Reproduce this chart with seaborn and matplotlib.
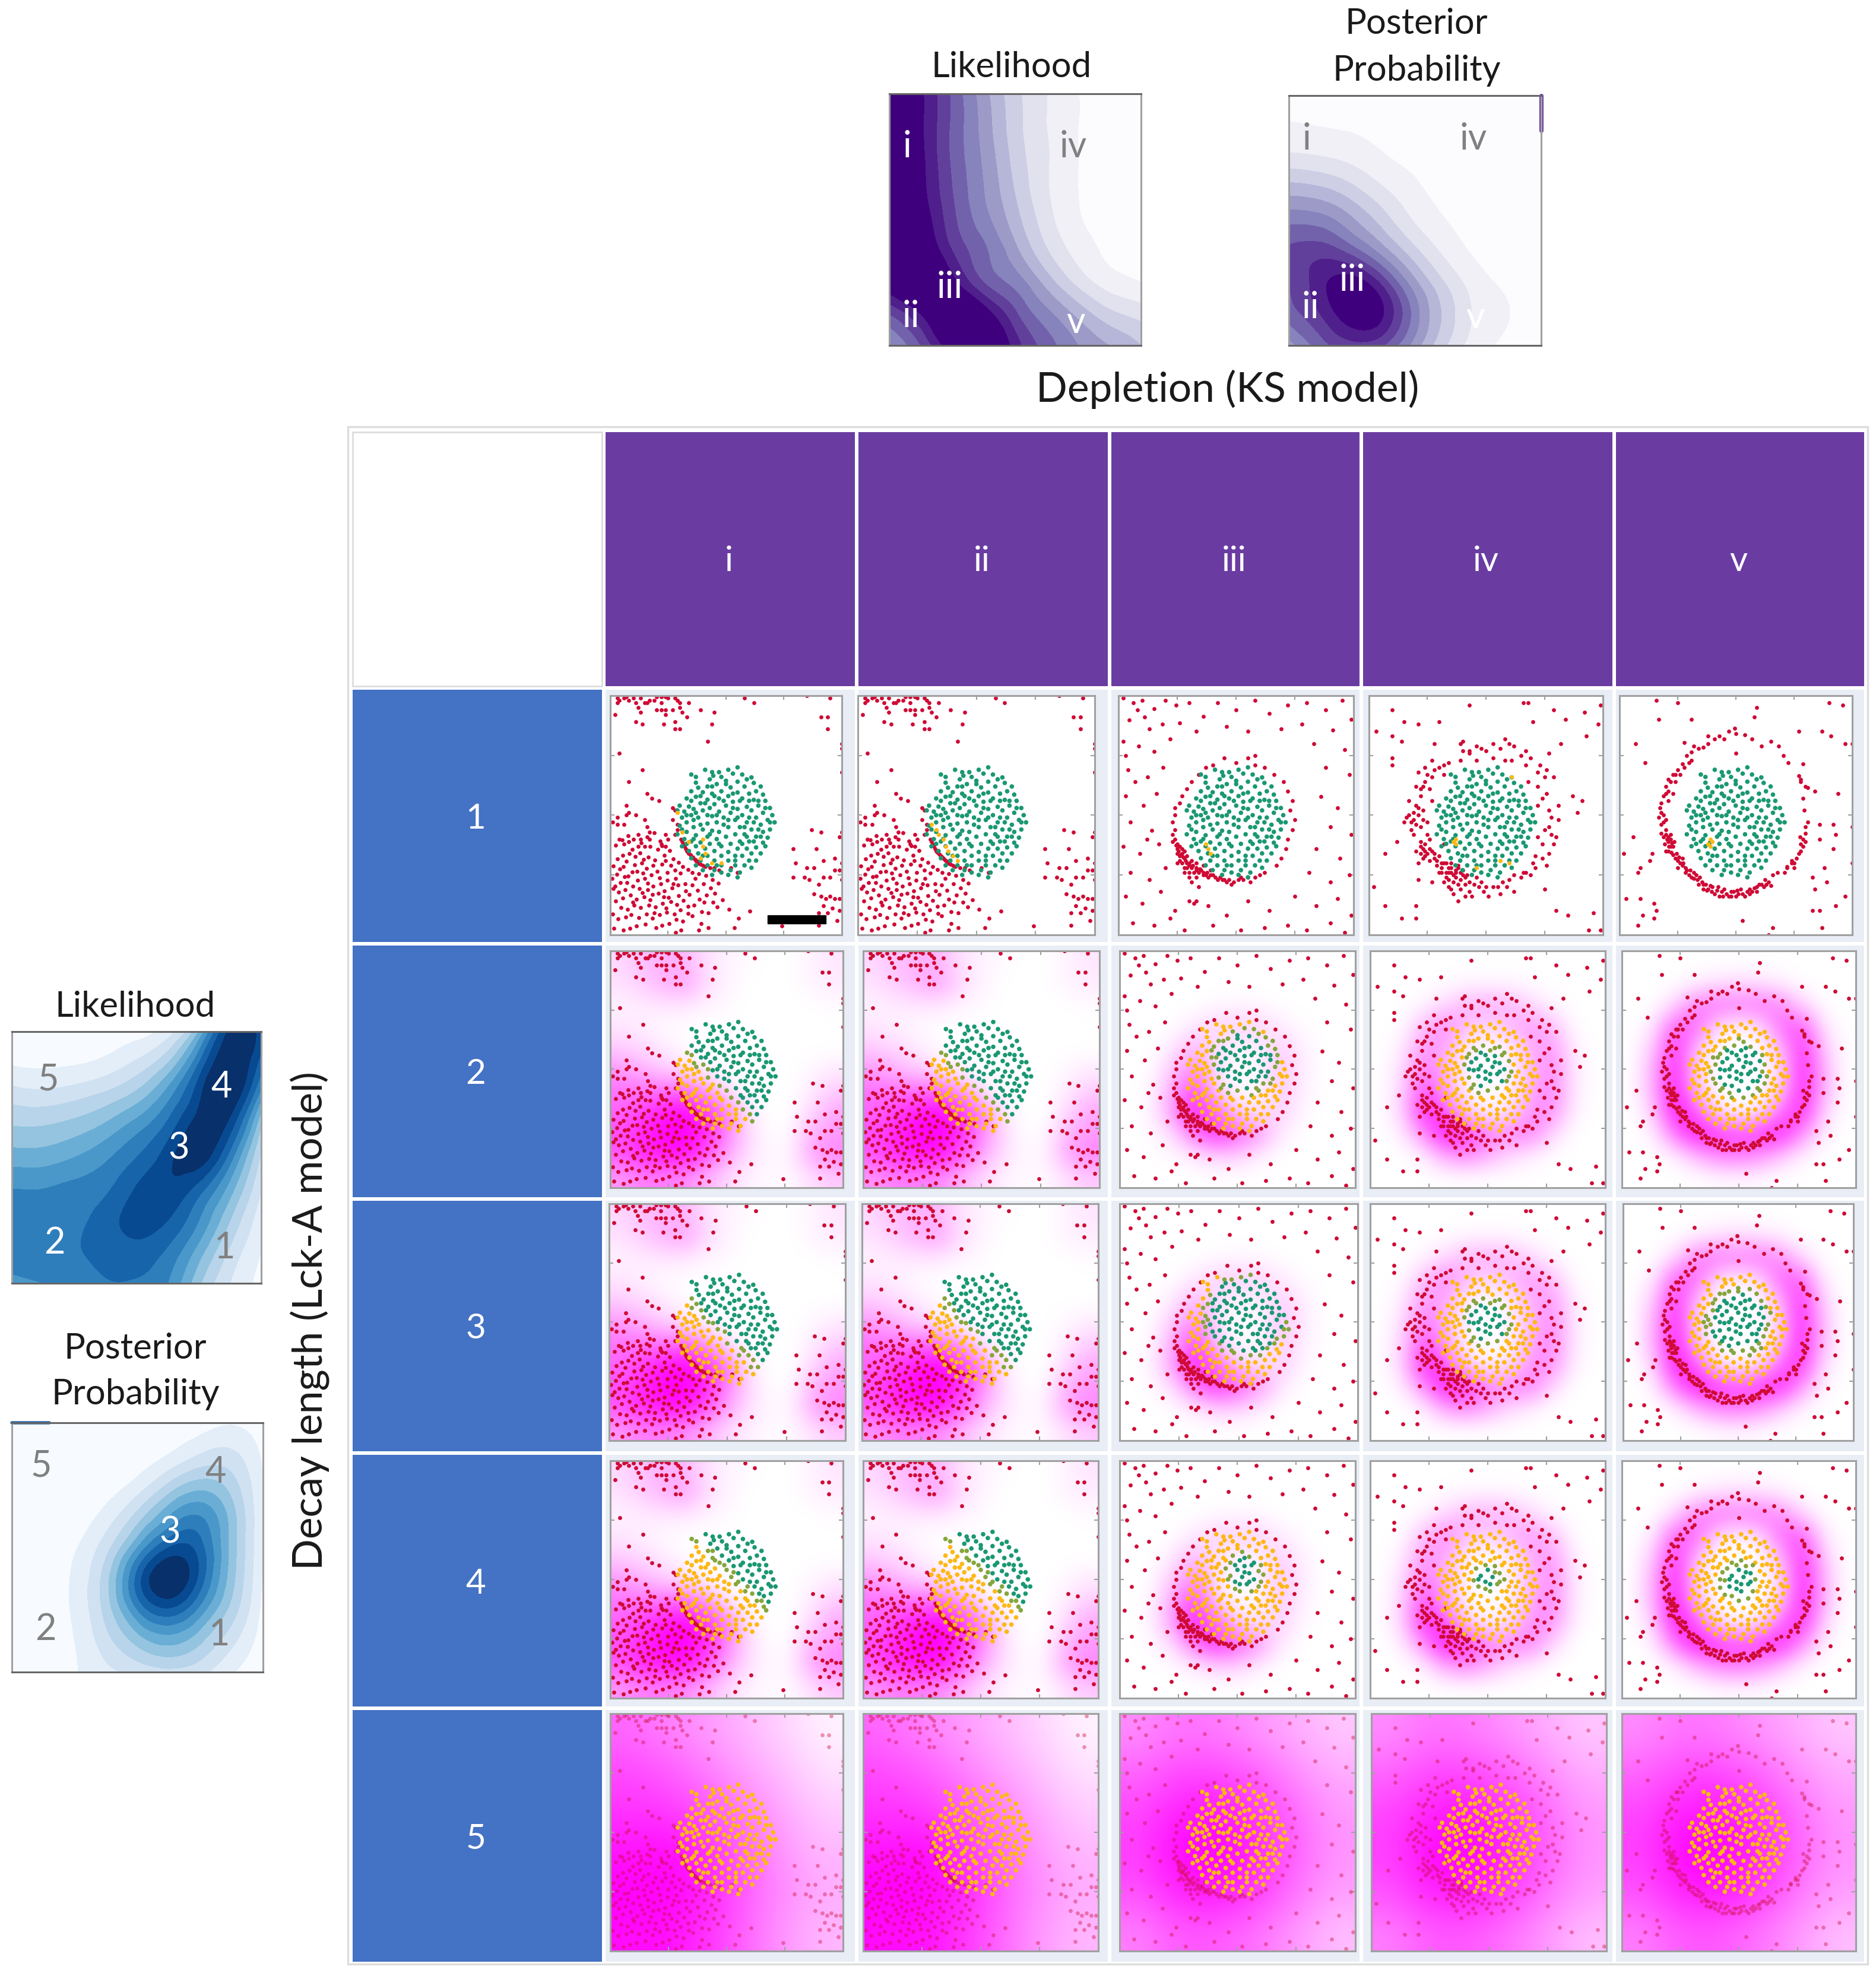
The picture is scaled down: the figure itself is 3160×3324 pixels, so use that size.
"""Likelihood maps and simulated cell snapshots, Lck-A decay length vs KS depletion."""
import matplotlib
matplotlib.use("Agg")
import matplotlib.pyplot as plt
import matplotlib.tri as mtri
from matplotlib.patches import Rectangle
import numpy as np
import pandas as pd
import seaborn as sns

# ---- text
COL_LABELS = ["i", "ii", "iii", "iv", "v"]
ROW_LABELS = ["1", "2", "3", "4", "5"]

# ---- contour maps, rows top to bottom on a 9x9 grid
LIK_PURPLE = [
    [12, 10.2, 7.8, 5.4, 3.3, 2, 1, .7, .4],
    [12, 10.2, 7.8, 5.6, 3.4, 2, 1, .7, .4],
    [12, 10.3, 7.8, 5.8, 3.6, 2.1, 1, .6, .3],
    [12, 10.4, 8, 6, 3.9, 2.1, 1, .5, .3],
    [12, 10.8, 8.3, 6.4, 4.4, 2.4, 1.1, .6, .3],
    [12, 11.5, 9, 7.2, 5.3, 3.1, 1.6, .8, .5],
    [11, 12, 10.5, 8, 6.6, 4.6, 2.7, 1.5, 1],
    [8, 10, 12, 10.8, 8.2, 6.3, 4.7, 3.3, 2.6],
    [6, 8, 11, 12, 9.5, 7.5, 6, 5, 4],
]
POST_PURPLE = [
    [.7, .6, .5, .4, .3, .2, .2, .2, .2],
    [1.1, 1, .9, .7, .4, .3, .2, .2, .2],
    [2.3, 2.1, 1.7, 1.1, .7, .4, .3, .2, .2],
    [4.5, 4.2, 3.3, 2.1, 1.2, .6, .3, .2, .2],
    [6.7, 6.5, 5.2, 3.5, 1.9, 1, .5, .3, .2],
    [8.2, 8.6, 7.6, 5.5, 3.3, 1.7, .8, .4, .3],
    [8, 9.6, 10.6, 8.6, 5.3, 2.9, 1.4, .8, .4],
    [7.5, 9, 10.8, 10, 6.5, 3.6, 1.7, 1, .5],
    [5.5, 7.5, 8.6, 8, 5.5, 3, 1.4, .8, .4],
]
LIK_BLUE = [
    [.3, .3, .3, .4, .6, 1.5, 5, 10.3, 9.5],
    [.9, .8, .9, 1.3, 2.2, 4, 8, 11, 8.5],
    [2.5, 2.3, 2.6, 3.2, 4.3, 6.5, 9.7, 11, 6.5],
    [4, 4, 4.4, 5.2, 6.5, 8.3, 10.6, 9.5, 4],
    [5.5, 5.5, 6, 6.8, 8, 9.6, 10.6, 7.5, 2.8],
    [7, 7, 7.3, 7.8, 9.1, 9.8, 8.5, 5.5, 2],
    [7.7, 7.7, 7.8, 8.5, 9.4, 9, 7, 4, 1.4],
    [7.8, 7.8, 7.9, 8.4, 8.6, 7.8, 5.5, 2.8, 1],
    [6.5, 7, 7.5, 7.9, 7.9, 7, 4.2, 2, .7],
]
POST_BLUE = [
    [.2, .2, .2, .2, .2, .3, .5, .9, .4],
    [.2, .2, .2, .2, .4, 1, 2, 2.2, .8],
    [.2, .2, .2, .5, 1.4, 3.2, 4.5, 3.5, 1],
    [.2, .2, .4, 1.4, 3.4, 6, 7, 4.5, 1],
    [.2, .3, .9, 2.6, 6, 9, 8.4, 4.6, 1],
    [.2, .3, 1.2, 3.6, 8.4, 11, 8.6, 4.4, .9],
    [.2, .3, 1.2, 3.4, 7, 8.8, 6.6, 3.6, .7],
    [.2, .3, 1, 2.6, 4.4, 5.4, 4.2, 2.3, .5],
    [.2, .3, .9, 1.7, 2.3, 2.7, 2.3, 1.1, .3],
]

# ---- magenta signal on an 11x11 grid for rows 2-4, one map per group of columns
GLOW_LEFT = [
    [.15, .25, .3, .3, .12, .05, .02, 0, 0, .05, .1],
    [.12, .2, .3, .38, .15, .05, 0, 0, 0, .05, .08],
    [.05, .08, .1, .1, .05, .02, 0, 0, 0, 0, .02],
    [.1, .06, .02, 0, 0, 0, 0, 0, 0, 0, 0],
    [.2, .15, .08, .02, 0, 0, 0, 0, 0, 0, 0],
    [.4, .3, .2, .12, .03, 0, 0, 0, 0, .03, .08],
    [.55, .55, .55, .6, .4, .1, 0, 0, 0, .08, .2],
    [.6, .75, .9, 1, .85, .5, .1, 0, 0, .15, .35],
    [.7, .85, 1, 1, .85, .5, .15, 0, .02, .3, .4],
    [.65, .85, .9, .95, .7, .35, .12, .03, .05, .35, .5],
    [.4, .5, .5, .45, .3, .15, .05, .02, .02, .12, .2],
]
GLOW_III = [
    [0, 0, 0, 0, 0, 0, 0, 0, 0, 0, 0],
    [0, 0, 0, 0, 0, 0, 0, 0, 0, 0, 0],
    [0, 0, 0, 0, .02, .03, .02, 0, 0, 0, 0],
    [0, 0, .01, .08, .18, .2, .18, .08, .01, 0, 0],
    [0, 0, .08, .3, .12, .03, .05, .2, .06, 0, 0],
    [0, .01, .22, .5, .1, 0, .03, .25, .08, 0, 0],
    [0, .03, .35, .75, .18, 0, .03, .22, .06, 0, 0],
    [0, .04, .4, .95, .6, .2, .12, .2, .03, 0, 0],
    [0, .02, .13, .55, .85, .65, .42, .08, 0, 0, 0],
    [0, 0, .02, .08, .18, .18, .06, 0, 0, 0, 0],
    [0, 0, 0, 0, 0, 0, 0, 0, 0, 0, 0],
]
GLOW_IV = [
    [0, 0, 0, 0, 0, 0, 0, 0, 0, 0, 0],
    [0, 0, 0, .01, .03, .03, .03, .01, 0, 0, 0],
    [0, 0, .03, .15, .28, .33, .28, .15, .03, 0, 0],
    [0, .01, .25, .48, .28, .15, .28, .42, .25, .01, 0],
    [0, .06, .42, .35, .04, 0, .04, .32, .42, .06, 0],
    [0, .12, .55, .32, .03, 0, .03, .28, .48, .08, 0],
    [0, .16, .72, .38, .03, 0, .03, .32, .5, .08, 0],
    [0, .16, .85, .72, .2, .05, .12, .45, .45, .05, 0],
    [0, .06, .45, .95, .78, .52, .48, .52, .15, 0, 0],
    [0, 0, .05, .35, .48, .32, .15, .06, 0, 0, 0],
    [0, 0, 0, 0, 0, 0, 0, 0, 0, 0, 0],
]
GLOW_V = [
    [0, 0, 0, 0, 0, 0, 0, 0, 0, 0, 0],
    [0, 0, 0, .05, .1, .14, .1, .05, 0, 0, 0],
    [0, 0, .15, .5, .58, .5, .58, .45, .15, 0, 0],
    [0, .08, .65, .62, .12, .04, .12, .62, .65, .08, 0],
    [0, .22, .85, .25, 0, 0, 0, .28, .85, .2, 0],
    [0, .32, .9, .15, 0, 0, 0, .15, .9, .28, 0],
    [0, .32, .95, .25, 0, 0, 0, .22, .9, .28, 0],
    [0, .18, .95, .68, .12, .03, .1, .62, .85, .15, 0],
    [0, .05, .55, .95, .82, .72, .82, .88, .42, .04, 0],
    [0, 0, .05, .28, .5, .55, .45, .22, .04, 0, 0],
    [0, 0, 0, 0, .02, .03, .02, 0, 0, 0, 0],
]
# row 5 is much broader, 6x6 is enough
GLOW5_LEFT = [
    [.6, .5, .4, .28, .17, .05],
    [.72, .65, .52, .38, .25, .12],
    [.8, .78, .66, .5, .34, .2],
    [.92, .98, .82, .6, .4, .28],
    [1, 1, .88, .64, .45, .32],
    [.95, .95, .8, .6, .4, .28],
]
GLOW5_RING = [
    [.45, .55, .52, .42, .32, .22],
    [.6, .72, .72, .62, .45, .32],
    [.72, .88, .92, .78, .58, .4],
    [.75, .98, 1, .85, .62, .42],
    [.68, .88, .92, .78, .55, .38],
    [.5, .65, .65, .55, .4, .25],
]

# ---- cells in the disc, x and y in percent of the panel, y from the top
CELL_PTS = [
    (55, 30), (41, 31), (44, 32), (51, 31), (35, 33), (44.5, 33.5), (48, 34), (53, 32.6), (57, 33), (61, 34.2),
    (37, 36.4), (43, 35), (50, 35.6), (55, 36), (62, 36.5), (65, 38), (38, 38.5), (46, 37), (42, 38), (52, 38.4),
    (58, 38), (63, 40), (35, 40), (40, 40.4), (48, 40), (55, 40.5), (60, 41), (66, 41.4), (44, 41), (51, 42),
    (37, 42.3), (33, 43), (42, 43.5), (47, 43), (57, 43), (62, 43.6), (67, 44), (53, 44.4), (39, 45), (45, 45.4),
    (30, 46), (34, 46.4), (50, 46), (59, 46.5), (64, 46), (69, 47), (36, 47.4), (43, 47), (55, 47.4), (29, 48),
    (32, 48.5), (40, 48), (47, 48.5), (52, 49), (61, 48), (66, 49), (70, 50), (35, 50), (44, 50.4), (57, 50),
    (31, 51), (38, 51), (49, 51), (54, 52), (63, 51), (68, 52), (71, 53), (33, 53), (42, 53.5), (46, 53),
    (59, 53), (65, 54), (30, 54.4), (36, 55), (51, 55), (56, 55), (61, 56), (69, 56), (40, 56), (44, 56.5),
    (47, 57), (33, 57), (66, 57), (29, 58), (37, 58.4), (54, 58), (58, 58), (63, 59), (68, 59.4), (42, 59),
    (50, 59), (32, 60), (46, 60), (35, 61), (39, 61.4), (56, 61), (60, 61), (66, 61.5), (52, 62), (43, 62),
    (31, 63), (37, 63), (48, 63), (63, 63.5), (67, 63), (41, 64), (55, 64), (59, 64), (34, 65), (45, 65),
    (51, 65.4), (38, 66), (61, 66), (65, 66), (42, 67), (48, 67), (54, 67), (57, 67), (35, 68), (60, 69),
    (45, 69), (39, 69), (51, 69), (63, 69), (37, 71), (42, 71), (48, 71), (54, 71), (58, 71), (40, 73),
    (45, 73), (52, 73), (56, 74), (61, 72), (44, 75), (48, 74), (51, 75), (55, 76), (37, 34), (59, 35),
    (47, 32), (64, 44), (33, 50), (39, 54), (49, 54), (60, 51), (43, 58), (55, 51), (64, 56), (36, 60),
    (47, 62), (58, 55), (53, 47), (41, 45), (31, 56), (67, 47), (62, 61), (50, 37), (45, 42), (57, 62),
    (35, 44), (69, 53), (39, 42), (53, 41), (42, 50), (51, 52), (37, 49), (46, 50), (60, 44), (65, 59),
    (33, 62), (40, 67), (46, 71), (54, 69), (59, 59), (49, 44), (56, 44), (44, 38), (62, 53), (36, 52),
]

# ---- red cells outside the disc for columns i and ii
LEFT_TOP = [
    (3, 1), (4, 2), (6, 1), (7, .5), (8, 2), (3, 3), (10, 1), (13, 1), (15, 3), (17, 2), (19, 2), (20, .5),
    (22, .5), (24, .5), (25, 1), (28, 1), (29, 2), (30, 3), (16, 3), (11, 3), (12, 5), (13, 7), (22, 3),
    (20, 6), (22, 6), (24, 6), (24, 8), (27, 6), (30, 5), (31, 7), (34, 3), (45, 7), (39, 6), (33, 9),
    (2, 8), (11, 11), (14, 12), (23, 12), (28, 11), (28, 14), (30, 14), (44, 12), (42, 19), (62, 3),
    (58, 1), (85, 0), (95, 1), (91, 9), (94, 9), (94, 14), (100, 20), (100, 22), (100, 32),
]
LEFT_MID = [
    (4, 24), (14, 31), (8, 36), (16, 41), (18, 43), (21, 44), (7, 46), (8, 49), (7, 50), (11, 50), (15, 52),
    (3, 51), (1, 53), (3, 54), (6, 54), (16, 55), (27, 47), (28, 48), (27, 52), (29, 54), (29, 56), (28, 58),
    (12, 58), (10, 60), (13, 60), (8, 61), (4, 60), (6, 62), (15, 63), (17, 60), (12, 63), (17, 57), (24, 58),
    (25, 60), (22, 62), (24, 63),
]
LEFT_ARC = [
    (30.5, 60), (31, 61), (31.5, 62), (32, 63), (32.5, 64), (33, 65), (33.5, 65.5), (34, 66), (34.6, 66.6), (35, 67),
    (35.6, 67.5), (36, 68), (36.6, 68.5), (37, 69), (37.6, 69.4), (38, 70), (38.6, 70.2), (39, 70.5), (40, 71),
    (41, 71.5), (43, 72), (45, 72), (47, 73), (52, 72), (55, 74),
]
LEFT_CLUMP = [
    (2.3, 62.5), (5.1, 60.4), (7.8, 58.6), (9.6, 64.2), (13.4, 61.7), (15.8, 59.2), (18.9, 57.3), (17.2, 63.1), (21.6, 60.8),
    (5.4, 66.9), (8.2, 66.1), (6.9, 69.3), (3.1, 68.4), (1.2, 71.2), (10.7, 67.4), (12.8, 65.8), (13.6, 70.1), (16.4, 67.5),
    (19.3, 68.9), (20.6, 64.4), (22.4, 62.7), (23.3, 66.9), (25.7, 64.8), (27.1, 68.3), (29.6, 69.8), (31.4, 71.6), (15.7, 72.2),
    (18.4, 71.1), (14.2, 74.3), (10.6, 70.7), (9.4, 73.8), (5.7, 71.6), (2.8, 74.7), (.9, 76.6), (4.3, 78.1), (7.6, 75.4),
    (11.9, 77.2), (14.8, 76.4), (17.7, 75.1), (20.4, 73.6), (22.3, 70.4), (24.7, 73.9), (26.2, 70.9), (27.9, 73.1), (30.4, 74.2),
    (33.6, 72.8), (35.5, 73.9), (38.2, 74.6), (41.4, 75.3), (44.2, 77.1), (28.3, 76.6), (24.6, 77.3), (21.7, 78.8), (18.6, 79.6),
    (16.3, 81.2), (12.7, 80.6), (9.8, 79.7), (6.4, 81.3), (3.7, 82.1), (1.3, 80.7), (2.4, 85.9), (5.3, 84.6), (8.7, 83.4),
    (11.4, 85.2), (14.6, 84.3), (17.3, 85.4), (20.8, 82.6), (23.4, 81.7), (26.6, 80.4), (29.3, 79.2), (32.4, 78.7), (35.3, 79.1),
    (37.6, 81.4), (40.3, 78.6), (43.4, 80.4), (46.6, 78.4), (34.2, 83.3), (31.6, 85.7), (28.7, 87.4), (25.2, 84.4), (22.6, 86.8),
    (19.4, 88.3), (16.7, 87.7), (13.2, 88.6), (10.3, 87.6), (7.4, 89.4), (4.6, 88.7), (1.1, 91.3), (3.4, 93.4), (6.8, 92.6),
    (9.1, 91.7), (12.3, 92.8), (15.6, 91.4), (18.2, 93.1), (21.3, 91.6), (24.4, 90.7), (27.6, 91.3), (30.2, 89.6), (33.5, 88.2),
    (36.3, 87.7), (38.4, 85.2), (41.6, 83.4), (44.3, 86.3), (46.2, 88.4), (42.3, 90.8), (39.4, 90.3), (35.4, 92.2), (31.3, 94.4),
    (28.4, 93.6), (25.3, 95.3), (22.4, 96.2), (19.7, 97.1), (15.2, 95.7), (11.3, 96.4), (8.4, 97.3), (5.6, 98.2), (1.6, 97.4),
    (28.2, 99), (30.6, 98), (39.2, 95.3), (42.4, 97.2), (38.3, 98.1), (48.4, 85.3), (51.2, 89.4), (55.3, 93.2), (60.4, 90.1),
    (53.6, 97.2), (74.2, 96.4), (23.8, 69.1), (11.6, 73.4), (7.3, 78.2), (18.3, 83.1), (26.3, 86.2), (32.7, 81.8), (21.2, 76.2),
    (13.9, 82.4), (4.2, 72.6), (29.4, 83.7), (36.7, 76.6), (16.2, 78.4), (24.1, 88.8), (9.7, 86.4), (19.1, 90.8), (33.7, 91.2),
    (40.6, 86.3), (45.2, 82.6), (6.1, 75.8), (2.2, 79.6), (27.3, 78.8), (23.2, 84.2), (14.4, 68.6),
]
LEFT_RIGHT = [
    (87, 56), (91, 57), (100, 57), (99, 59), (79, 64), (89, 64), (80, 70), (92, 69), (97, 68), (100, 70), (99, 73),
    (85, 72), (88, 72), (84, 76), (86, 77), (79, 76), (92, 76), (95, 76), (97, 73), (90, 79), (100, 77), (88, 83),
    (91, 84), (93, 85), (95, 84), (97, 85), (92, 88), (96, 89), (99, 85), (99, 90), (90, 91), (94, 91), (98, 94),
    (90, 96),
]

# ---- red cells for columns iii, iv, v: the ring, then the stray ones
RING_III = [
    (24, 50), (23, 53), (24, 56), (23, 58), (24, 60), (25, 62), (25, 64), (27, 66), (26, 67), (28, 68), (29, 70),
    (30, 71), (31, 72), (33, 72), (34, 74), (35, 73), (37, 75), (38, 76), (40, 75), (42, 77), (44, 77), (46, 78),
    (49, 78), (51, 77), (53, 77), (56, 78), (58, 76), (60, 75), (62, 74), (26, 63), (28, 65), (29, 67), (31, 69),
    (33, 70), (36, 71), (39, 73), (27, 70), (30, 74), (24, 47), (26, 45), (27, 42), (29, 39), (31, 36), (34, 33),
    (37, 30), (40, 29), (45, 26), (50, 28), (55, 26), (58, 29), (62, 30), (66, 33), (70, 36), (72, 40), (74, 44),
    (73, 48), (75, 52), (74, 56), (72, 60), (71, 64), (69, 68), (67, 71), (30, 76), (34, 80), (28, 72), (31, 78),
    (58, 25), (30, 86), (32, 87), (33, 86), (25, 66), (27, 64), (23, 61), (26, 69), (29, 72), (32, 74), (36, 74),
    (24.5, 62.5), (25.5, 65), (26.5, 66.5), (27.5, 67.5), (28.5, 69), (30, 70), (31.5, 71), (33, 73), (34.5, 72.5), (36, 75),
    (37.5, 74), (39, 75), (41, 76), (43, 76), (45, 77), (47, 77), (48, 79), (52, 76), (55, 76), (25, 70), (28, 74), (33, 76),
]
STRAY_III = [
    (2, 1), (6.4, 3), (10, 2), (15, 5.4), (20, 2), (24.4, 4), (30, 3), (36, 8.6), (42, 3), (50, 6), (58, 2), (64, 7.4), (72, 4),
    (80, 3), (88, 6), (95, 2), (99, 10), (4.4, 10.3), (11, 9), (18.6, 12), (26, 11.4), (33, 15), (46, 13), (55, 15), (69, 14),
    (78, 12), (91, 14.4), (2, 19), (8.6, 21), (15, 23.4), (22, 18), (83, 20), (96, 22.6), (4, 31), (12.4, 34), (19, 30), (88, 30),
    (98, 33), (3, 42), (10.6, 46), (16, 41), (86, 42.3), (93, 47), (5, 53), (14, 56.4), (90, 55), (99, 58), (2, 63), (9, 66),
    (17, 62), (84, 64), (94, 68), (5, 74), (13, 77), (20, 72), (81, 74), (90, 78), (98, 75), (3, 84), (10, 87), (18, 82),
    (24, 90), (38, 88), (46, 92), (55, 86), (64, 90), (75, 84), (84, 88), (93, 85), (99, 92), (6, 95), (15, 96), (28, 98),
    (40, 96), (52, 98), (62, 97), (72, 96), (80, 98), (90, 95), (96, 99), (8, 6), (13, 14), (3, 25), (7, 36), (12, 60), (22, 93),
]
RING_IV = [
    (39, 20), (40, 19), (46, 21), (53, 20), (58, 18), (60, 20), (62, 21), (67, 23), (40, 23), (43, 24), (48, 22), (53, 26),
    (58, 27), (61, 27), (65, 25), (46, 27), (39, 27), (34, 28), (32, 29), (27, 27), (24, 30), (21, 32), (32, 33), (27, 34),
    (24, 36), (20, 38), (22, 39), (26, 39), (22, 42), (17, 44), (20, 46), (27, 44), (21, 47), (23, 48), (19, 49), (21, 50),
    (16, 51), (19, 52), (23, 52), (25, 53), (15, 53), (18, 56), (22, 55), (19, 58), (25, 58), (26, 60), (12, 61), (22, 61),
    (22, 63), (20, 65), (24, 65), (27, 65), (30, 67), (32, 62), (23, 68), (26, 69), (32, 70), (34, 72), (31, 72), (37, 73),
    (40, 73), (33, 74), (36, 75), (39, 77), (41, 76), (43, 78), (46, 76), (48, 78), (32, 78), (34, 80), (39, 81), (43, 82),
    (36, 83), (41, 84), (44, 84), (49, 82), (51, 84), (53, 80), (56, 83), (57, 78), (60, 77), (62, 82), (62, 75), (67, 74),
    (69, 75), (71, 72), (71, 67), (74, 68), (77, 66), (79, 62), (80, 59), (72, 59), (75, 56), (81, 52), (78, 51), (77, 48),
    (81, 46), (72, 46), (76, 41), (72, 38), (68, 36), (79, 34), (76, 31), (72, 32), (67, 29), (73, 29), (77, 24), (69, 26),
    (21, 70), (21, 77), (27, 78), (70, 70), (66, 74), (28, 68), (33, 70), (35, 70), (38, 71), (37, 76), (34, 77), (38, 79),
    (35, 81), (41, 79), (29, 71), (25, 66), (23, 64), (30, 74), (33, 76), (36, 78), (39, 74), (42, 75), (24, 62), (26, 64),
    (28, 66), (29, 69), (31, 70), (35, 72), (37, 74), (38, 72), (40, 75), (35, 74), (31, 74), (34, 74), (22, 66), (24, 67),
    (18, 53), (17, 50), (20, 54), (45, 79), (47, 80), (50, 80), (55, 80), (59, 80), (65, 76), (43, 23), (50, 23), (56, 22),
    (30, 30), (28, 31), (25, 33), (23, 38), (75, 34), (74, 43), (77, 55), (78, 58), (74, 62), (76, 71),
]
STRAY_IV = [
    (10, 6), (43, 4), (66, 3), (68, 3), (79, 6), (92, 7), (99, 4), (15, 11), (21, 12), (30, 11), (70, 11), (84, 10), (98, 12),
    (3, 15), (10, 17), (14, 19), (93, 17), (28, 20), (82, 20), (10, 26), (10, 29), (87, 42), (91, 44), (89, 49), (7, 66),
    (75, 81), (38, 86), (7, 88), (20, 88), (80, 90), (85, 92), (96, 91), (14, 93), (20, 93), (94, 98), (99, 98), (2, 80),
]
RING_V = [
    (49.5, 13.6), (47, 15), (45, 18), (41, 18), (38, 17), (38, 20), (36, 21.5), (32, 21), (31, 23.5), (29, 25), (31, 27),
    (28, 19.5), (27, 28.5), (25, 31), (23, 33), (21, 35), (24, 36), (20, 38), (19, 42), (23, 41), (21, 44), (17.5, 47),
    (19, 50), (17, 51), (19, 53), (20, 56), (18, 57.5), (21, 59), (19.5, 62), (22, 63), (20, 65), (23, 66.5), (25, 69),
    (27, 68), (25, 72), (28.5, 72), (30, 75), (32, 74), (33.5, 77), (35.5, 78), (36, 81), (39, 79.5), (42, 81.5), (43, 84),
    (45, 81), (48, 82), (50, 84), (52, 81), (55, 82), (58, 80.5), (60, 79), (62.5, 77), (65, 79.5), (66, 75), (68, 74),
    (72, 71.5), (75, 72), (77, 66), (79, 63), (77.5, 59), (80, 57.5), (81, 53), (79.5, 48), (79, 43), (81, 38.5), (84, 40),
    (78, 36), (77, 33.5), (79, 28.5), (72.5, 28), (70.5, 25), (68.5, 21), (65, 19), (61, 21), (57, 18), (54, 16.5),
    (22, 60), (21, 61), (22, 58), (19, 59), (23, 63), (21, 65), (24, 68), (26, 70), (27, 71), (29, 73), (31, 76), (33, 75),
    (34, 79), (37, 79), (38, 81), (40, 80), (41, 83), (44, 82), (46, 83), (47, 84), (49, 82), (51, 83), (53, 83), (56, 81),
    (57, 82), (59, 80), (61, 79), (63, 79), (24, 33), (22, 36), (20, 41), (21, 40), (18, 45), (18, 49), (20, 52), (18, 54),
    (20, 58), (72, 72), (71, 74), (79, 60), (78, 62), (76, 68), (75, 70), (74, 70), (80, 55), (78, 35), (80, 38),
    (22.6, 61.5), (21.2, 63), (24.5, 66), (22.2, 65.6), (25.7, 67.5), (27.5, 70), (28.5, 74), (30.5, 73), (32, 76.5), (34.5, 76),
    (36, 79), (37.5, 81.5), (39.5, 82), (42.5, 80), (44.5, 84), (48, 84), (50.5, 81.5), (54, 84), (56, 83), (59, 82), (62, 80),
    (64, 78), (20.5, 60), (23.5, 61), (26, 33), (28, 30), (30, 28), (34, 22), (43, 17), (50, 16), (74, 69), (78, 65), (80, 61),
]
STRAY_V = [
    (16, 2), (25, 3), (59, 5), (90, 3), (96, 4), (17, 10), (31, 10), (58, 9), (77, 15), (87, 15), (91, 17), (97, 20), (100, 20),
    (7, 20), (11, 28), (94, 41), (86, 54), (92, 54), (93, 58), (86, 60), (6, 59), (92, 64), (14, 66), (2, 66), (13, 69), (9, 72),
    (8, 74), (83, 76), (88, 72), (84, 81), (89, 78), (97, 84), (3, 85), (9, 85), (15, 87), (16, 90), (10, 92), (15, 93), (8, 96),
    (53, 94), (66, 97), (87, 97), (64, 100), (93, 88), (86, 90), (83, 90), (100, 55), (100, 70), (50, 24),
]

# a few activated cells in the first row
ROW1_YELLOW = [
    [(29, 49), (31, 57), (34, 61), (40, 60), (40, 63), (41, 66), (39, 68), (44, 70), (48, 70)],
    [(31, 54), (33, 56), (34, 58), (36, 60), (37, 63), (38, 65), (40, 67), (42, 69)],
    [(37, 62), (38, 64), (39, 66)],
    [(37, 60), (36, 61), (37, 62), (61, 34), (56, 69), (60, 70), (46, 72)],
    [(39, 60), (40, 61), (38, 62), (39, 63)],
]
# where green turns yellow: x - y cut for columns i, ii; green core radius for iii, iv, v
DIAG_CUT = [None, -10, -7, 4, None]
CORE_RADIUS = [
    [None, None, None],
    [13, 9, 11],
    [17, 9, 13],
    [7, 5, 7],
    [0, 0, 0],
]

# ---- layout, in pixels of the shrunk picture
S = 3160 / 1491
COL_EDGES = [279, 480, 681, 882, 1082, 1283, 1483]
ROW_EDGES = [342, 547, 750, 953, 1155, 1358, 1561]
PANEL_X = [
    [(485, 669), (682, 870), (889, 1076), (1088, 1274), (1287, 1472)],
    [(485, 670), (686, 874), (890, 1077), (1089, 1276), (1289, 1475)],
    [(484, 672), (685, 873), (890, 1079), (1089, 1276), (1290, 1473)],
    [(485, 670), (686, 873), (890, 1077), (1089, 1276), (1289, 1475)],
    [(485, 670), (686, 873), (890, 1077), (1090, 1277), (1289, 1475)],
]
PANEL_Y = [(553, 743), (756, 944), (957, 1145), (1161, 1350), (1362, 1551)]

PURPLE_HEAD = "#6a3ca2"
BLUE_HEAD = "#4472c4"
CELL_BG = "#e9edf5"
EDGE_GREY = "#a0a0a0"
GREEN = "#1a9873"
YELLOW = "#fdb813"
OLIVE = "#85a63c"
RED = "#cf0a35"

sns.set_theme(style="white")
plt.rcParams["font.family"] = ["Lato", "DejaVu Sans"]

fig = plt.figure(figsize=(31.6, 33.24), dpi=100)


def px_axes(x0, y0, x1, y1, **kw):
    return fig.add_axes([x0 / 3160, 1 - y1 / 3324, (x1 - x0) / 3160, (y1 - y0) / 3324], **kw)


def panel_frame(ax, ticks):
    ax.set_xticks(ticks)
    ax.set_yticks(ticks)
    ax.set_xticklabels([])
    ax.set_yticklabels([])
    ax.set_xlabel("")
    ax.set_ylabel("")
    ax.tick_params(direction="in", length=5, width=1.5, color=EDGE_GREY, top=True, right=True, bottom=True, left=True)
    for sp in ax.spines.values():
        sp.set_visible(True)
        sp.set_color(EDGE_GREY)
        sp.set_linewidth(2.2)


def contour_panel(box, grid, palette, labels):
    ax = px_axes(*box)
    z = np.array(grid, dtype=float)
    gx, gy = np.meshgrid(np.linspace(0, 1, z.shape[1]), np.linspace(0, 1, z.shape[0]))
    tri = mtri.Triangulation(gx.ravel(), gy.ravel())
    tri2, z2 = mtri.UniformTriRefiner(tri).refine_field(z.ravel(), subdiv=3)
    cmap = sns.color_palette(palette, as_cmap=True)
    colors = cmap(np.r_[0.0, np.linspace(0.0, 1.0, 11)])
    ax.tricontourf(tri2, z2, levels=np.arange(0, 11), colors=colors, extend="both")
    ax.set_xlim(0, 1)
    ax.set_ylim(1, 0)
    panel_frame(ax, [1 / 3, 2 / 3])
    ax.spines["bottom"].set_color("#666666")
    ax.spines["top"].set_color("#666666")
    for text, x, y, color in labels:
        ax.text(x, y, text, color=color, fontsize=44, ha="center", va="center")
    return ax


def glow_for(row, col):
    if row == 0:
        return None
    if row == 4:
        return GLOW5_LEFT if col < 2 else GLOW5_RING
    return [GLOW_LEFT, GLOW_LEFT, GLOW_III, GLOW_IV, GLOW_V][col]


def reds_for(col):
    if col < 2:
        return LEFT_TOP + LEFT_MID + LEFT_ARC + LEFT_CLUMP + LEFT_RIGHT
    return {2: RING_III + STRAY_III, 3: RING_IV + STRAY_IV, 4: RING_V + STRAY_V}[col]


def cell_frame(row, col):
    df = pd.DataFrame(CELL_PTS, columns=["x", "y"])
    if row == 0:
        df["state"] = "green"
    elif row == 4:
        df["state"] = "yellow"
    elif col < 2:
        margin = (df["x"] - df["y"]) - DIAG_CUT[row]
        df["state"] = np.where(margin < -2, "yellow", np.where(margin < 3, "olive", "green"))
    else:
        cx, cy = (53, 47) if col == 2 else (50, 50)
        dist = np.hypot(df["x"] - cx, df["y"] - cy)
        margin = dist - CORE_RADIUS[row][col - 2]
        df["state"] = np.where(margin > 2, "yellow", np.where(margin > -1, "olive", "green"))
    return df


def snapshot_panel(row, col):
    x0, x1 = PANEL_X[row][col]
    y0, y1 = PANEL_Y[row]
    ax = px_axes(x0 * S, y0 * S, x1 * S, y1 * S)
    glow = glow_for(row, col)
    if glow is not None:
        ax.imshow(glow, extent=(0, 100, 100, 0), cmap=GLOW_CMAP, vmin=0, vmax=1,
                  interpolation="bicubic", aspect="auto", zorder=0)
    reds = pd.DataFrame(reds_for(col), columns=["x", "y"])
    sns.scatterplot(data=reds, x="x", y="y", color=RED, s=24, linewidth=0, legend=False,
                    alpha=0.4 if row == 4 else 1, ax=ax, zorder=2)
    cells = cell_frame(row, col)
    sns.scatterplot(data=cells, x="x", y="y", hue="state",
                    palette={"green": GREEN, "yellow": YELLOW, "olive": OLIVE},
                    s=30, linewidth=0, legend=False, ax=ax, zorder=3)
    if row == 0:
        extra = pd.DataFrame(ROW1_YELLOW[col], columns=["x", "y"])
        sns.scatterplot(data=extra, x="x", y="y", color=YELLOW, s=26, linewidth=0, legend=False, ax=ax, zorder=4)
    ax.set_xlim(0, 100)
    ax.set_ylim(100, 0)
    panel_frame(ax, [25, 50, 75])
    if row == 0 and col == 0:
        ax.add_patch(Rectangle((68, 92), 25, 3.4, color="black", zorder=5))


GLOW_CMAP = sns.blend_palette(["#ffffff", "#ff00ff"], as_cmap=True)

# ---- table behind everything, drawn in pixel coordinates
back = fig.add_axes([0, 0, 1, 1])
back.set_xlim(0, 3160)
back.set_ylim(3324, 0)
back.axis("off")
back.add_patch(Rectangle((586, 719), 2560, 2590, fill=False, ec="#dddddd", lw=2.5))

for i in range(6):
    for j in range(6):
        x0, x1 = COL_EDGES[i] * S + 3, COL_EDGES[i + 1] * S - 3
        y0, y1 = ROW_EDGES[j] * S + 3, ROW_EDGES[j + 1] * S - 3
        if i == 0 and j == 0:
            back.add_patch(Rectangle((x0, y0), x1 - x0, y1 - y0, fc="white", ec="#dddddd", lw=2))
        elif j == 0:
            back.add_patch(Rectangle((x0, y0), x1 - x0, y1 - y0, fc=PURPLE_HEAD, ec="none"))
            back.text((x0 + x1) / 2 - 3, (y0 + y1) / 2 + 3, COL_LABELS[i - 1], color="white", fontsize=42, ha="center", va="center")
        elif i == 0:
            back.add_patch(Rectangle((x0, y0), x1 - x0, y1 - y0, fc=BLUE_HEAD, ec="none"))
            back.text((x0 + x1) / 2 - 3, (y0 + y1) / 2 + 5, ROW_LABELS[j - 1], color="white", fontsize=42, ha="center", va="center")
        else:
            back.add_patch(Rectangle((x0, y0), x1 - x0, y1 - y0, fc=CELL_BG, ec="none"))

back.text(1704, 113, "Likelihood", fontsize=43, ha="center", va="center", color="#1a1a1a")
back.text(2386, 40, "Posterior", fontsize=43, ha="center", va="center", color="#1a1a1a")
back.text(2386, 119, "Probability", fontsize=43, ha="center", va="center", color="#1a1a1a")
back.text(2068, 656, "Depletion (KS model)", fontsize=50, ha="center", va="center", color="#1a1a1a")
back.text(228, 1696, "Likelihood", fontsize=43, ha="center", va="center", color="#1a1a1a")
back.text(228, 2272, "Posterior", fontsize=43, ha="center", va="center", color="#1a1a1a")
back.text(228, 2349, "Probability", fontsize=43, ha="center", va="center", color="#1a1a1a")
back.text(522, 2225, "Decay length (Lck-A model)", fontsize=50, rotation=90, ha="center", va="center", color="#1a1a1a")

# ---- contour maps
G = "#808080"
W = "white"
contour_panel((1498, 158, 1922, 582), LIK_PURPLE, "Purples",
              [("i", .07, .21, W), ("iv", .73, .21, G), ("iii", .24, .77, W), ("ii", .085, .885, W), ("v", .74, .91, W)])
ax_pp = contour_panel((2171, 161, 2596, 582), POST_PURPLE, "Purples",
                      [("i", .07, .175, G), ("iv", .73, .175, G), ("iii", .25, .74, W), ("ii", .085, .85, W), ("v", .74, .89, W)])
ax_pp.plot([1, 1], [0, .14], color=PURPLE_HEAD, lw=5, clip_on=False)
contour_panel((20, 1738, 440, 2162), LIK_BLUE, "Blues",
              [("5", .146, .19, G), ("4", .84, .22, W), ("3", .67, .465, W), ("2", .17, .84, W), ("1", .855, .86, G)])
ax_pb = contour_panel((20, 2397, 443, 2817), POST_BLUE, "Blues",
                      [("5", .117, .175, G), ("4", .81, .2, G), ("3", .63, .44, W), ("2", .135, .83, G), ("1", .826, .85, G)])
ax_pb.plot([0, .15], [0, 0], color="#2a6cb0", lw=4, clip_on=False)

# ---- snapshots
for r in range(5):
    for c in range(5):
        snapshot_panel(r, c)

fig.savefig("out.png", dpi=100)
plt.close(fig)
